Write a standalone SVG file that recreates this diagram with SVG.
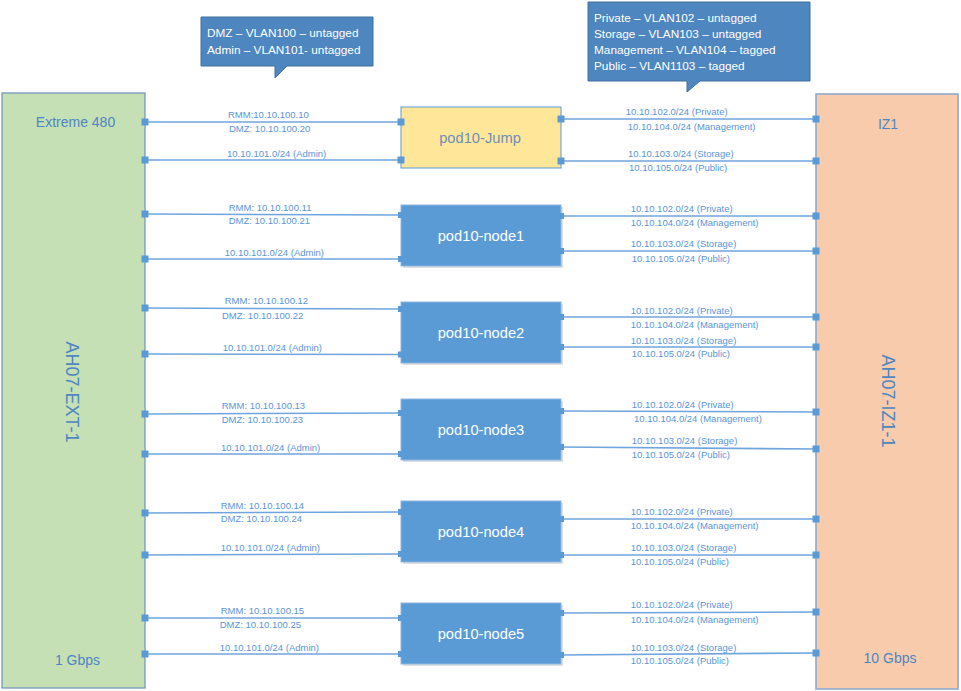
<svg xmlns="http://www.w3.org/2000/svg" width="961" height="691" viewBox="0 0 961 691">
<style>
.lbl{font-family:"Liberation Sans",Arial,sans-serif;font-size:9.5px;fill:#5b95d6}
.big{font-family:"Liberation Sans",Arial,sans-serif;font-size:14px;fill:#4f86c2;text-anchor:middle}
.vert{font-family:"Liberation Sans",Arial,sans-serif;font-size:18px;fill:#4f86c2;text-anchor:middle}
.call{font-family:"Liberation Sans",Arial,sans-serif;font-size:11.8px;fill:#ffffff}
.callbox{fill:#4e86c0;stroke:#41719c;stroke-width:1}
.node{fill:#5b9bd5;stroke:#8db4e2;stroke-width:1}
.nodetxt{font-family:"Liberation Sans",Arial,sans-serif;font-size:14.7px;fill:#ffffff;text-anchor:middle}
.shadow{fill:#000000;opacity:0.12}
.port{fill:#5b9bd5}
.conn line{stroke:#6fa5de;stroke-width:1.6}
</style>

<g id="callout-dmz">
<path class="callbox" d="M201,17 H373 V66 H287 L275,78 V66 H201 Z"/>
<text class="call" x="207" y="37">DMZ – VLAN100 – untagged</text>
<text class="call" x="207" y="54">Admin – VLAN101- untagged</text>
</g>

<g id="callout-vlans">
<path class="callbox" d="M588,2 H810 V81 H700 L687,92 V81 H588 Z"/>
<text class="call" x="594" y="21.5">Private – VLAN102 – untagged</text>
<text class="call" x="594" y="37.9">Storage – VLAN103 – untagged</text>
<text class="call" x="594" y="53.9">Management – VLAN104 – tagged</text>
<text class="call" x="594" y="69.9">Public – VLAN1103 – tagged</text>
</g>

<g id="ext-switch">
<rect x="2" y="93" width="143" height="595" fill="#c5e0b4" stroke="#6d8fc0" stroke-width="1.2"/>
<text class="big" x="75.5" y="127">Extreme 480</text>
<text class="vert" transform="translate(66,392) rotate(90)" x="0" y="0">AH07-EXT-1</text>
<text class="big" x="77.5" y="665">1 Gbps</text>
</g>

<g id="iz1-switch">
<rect x="816" y="94" width="142" height="595" fill="#f8cbad" stroke="#8ea9cc" stroke-width="1.6"/>
<text class="big" x="888" y="129">IZ1</text>
<text class="vert" transform="translate(882,401) rotate(90)" x="0" y="0">AH07-IZ1-1</text>
<text class="big" x="890" y="663">10 Gbps</text>
</g>

<g id="connectors" class="conn">
<line x1="145" y1="122" x2="401" y2="122"/>
<line x1="145" y1="160" x2="401" y2="160"/>
<line x1="145" y1="214" x2="401" y2="215"/>
<line x1="145" y1="259" x2="401" y2="259"/>
<line x1="145" y1="308" x2="401" y2="309"/>
<line x1="145" y1="354" x2="401" y2="354.5"/>
<line x1="145" y1="414" x2="401" y2="413"/>
<line x1="145" y1="454" x2="401" y2="454"/>
<line x1="145" y1="513" x2="401" y2="512"/>
<line x1="145" y1="555" x2="401" y2="554"/>
<line x1="145" y1="618" x2="401" y2="618"/>
<line x1="145" y1="654" x2="401" y2="654"/>
<line x1="561" y1="119" x2="816" y2="119"/>
<line x1="561" y1="161" x2="816" y2="161"/>
<line x1="561" y1="216" x2="816" y2="216"/>
<line x1="561" y1="251" x2="816" y2="251"/>
<line x1="561" y1="317" x2="816" y2="317"/>
<line x1="561" y1="347" x2="816" y2="347"/>
<line x1="561" y1="411" x2="816" y2="412"/>
<line x1="561" y1="447" x2="816" y2="449"/>
<line x1="561" y1="519" x2="816" y2="519"/>
<line x1="561" y1="555" x2="816" y2="555"/>
<line x1="561" y1="613" x2="816" y2="612"/>
<line x1="561" y1="655" x2="816" y2="653"/>
</g>

<g id="switch-ports">
<rect class="port" x="141.5" y="118.5" width="7" height="7"/>
<rect class="port" x="141.5" y="156.5" width="7" height="7"/>
<rect class="port" x="141.5" y="210.5" width="7" height="7"/>
<rect class="port" x="141.5" y="255.5" width="7" height="7"/>
<rect class="port" x="141.5" y="304.5" width="7" height="7"/>
<rect class="port" x="141.5" y="350.5" width="7" height="7"/>
<rect class="port" x="141.5" y="410.5" width="7" height="7"/>
<rect class="port" x="141.5" y="450.5" width="7" height="7"/>
<rect class="port" x="141.5" y="509.5" width="7" height="7"/>
<rect class="port" x="141.5" y="551.5" width="7" height="7"/>
<rect class="port" x="141.5" y="614.5" width="7" height="7"/>
<rect class="port" x="141.5" y="650.5" width="7" height="7"/>
<rect class="port" x="812.5" y="115.5" width="7" height="7"/>
<rect class="port" x="812.5" y="157.5" width="7" height="7"/>
<rect class="port" x="812.5" y="212.5" width="7" height="7"/>
<rect class="port" x="812.5" y="247.5" width="7" height="7"/>
<rect class="port" x="812.5" y="313.5" width="7" height="7"/>
<rect class="port" x="812.5" y="343.5" width="7" height="7"/>
<rect class="port" x="812.5" y="408.5" width="7" height="7"/>
<rect class="port" x="812.5" y="445.5" width="7" height="7"/>
<rect class="port" x="812.5" y="515.5" width="7" height="7"/>
<rect class="port" x="812.5" y="551.5" width="7" height="7"/>
<rect class="port" x="812.5" y="608.5" width="7" height="7"/>
<rect class="port" x="812.5" y="649.5" width="7" height="7"/>
</g>

<g id="pod10-jump">
<rect x="401" y="107" width="160" height="61" fill="#ffe699" stroke="#5b9bd5" stroke-width="1"/>
<rect class="port" x="397.5" y="118.5" width="7" height="7"/>
<rect class="port" x="397.5" y="156.5" width="7" height="7"/>
<rect class="port" x="557.5" y="115.5" width="7" height="7"/>
<rect class="port" x="557.5" y="157.5" width="7" height="7"/>
<text class="nodetxt" x="480" y="143" style="fill:#6f8fb8">pod10-Jump</text>
</g>

<g id="pod10-node1">
<rect class="shadow" x="403" y="207" width="160" height="61"/>
<rect class="node" x="401" y="205" width="160" height="61"/>
<rect class="port" x="398" y="212" width="6" height="6"/>
<rect class="port" x="398" y="256" width="6" height="6"/>
<rect class="port" x="558" y="213" width="6" height="6"/>
<rect class="port" x="558" y="248" width="6" height="6"/>
<text class="nodetxt" x="481" y="240.5">pod10-node1</text>
</g>

<g id="pod10-node2">
<rect class="shadow" x="403" y="304" width="160" height="61"/>
<rect class="node" x="401" y="302" width="160" height="61"/>
<rect class="port" x="398" y="306" width="6" height="6"/>
<rect class="port" x="398" y="351.5" width="6" height="6"/>
<rect class="port" x="558" y="314" width="6" height="6"/>
<rect class="port" x="558" y="344" width="6" height="6"/>
<text class="nodetxt" x="481" y="337.5">pod10-node2</text>
</g>

<g id="pod10-node3">
<rect class="shadow" x="403" y="401" width="160" height="61"/>
<rect class="node" x="401" y="399" width="160" height="61"/>
<rect class="port" x="398" y="410" width="6" height="6"/>
<rect class="port" x="398" y="451" width="6" height="6"/>
<rect class="port" x="558" y="408" width="6" height="6"/>
<rect class="port" x="558" y="444" width="6" height="6"/>
<text class="nodetxt" x="481" y="434.5">pod10-node3</text>
</g>

<g id="pod10-node4">
<rect class="shadow" x="403" y="503" width="160" height="61"/>
<rect class="node" x="401" y="501" width="160" height="61"/>
<rect class="port" x="398" y="509" width="6" height="6"/>
<rect class="port" x="398" y="551" width="6" height="6"/>
<rect class="port" x="558" y="516" width="6" height="6"/>
<rect class="port" x="558" y="552" width="6" height="6"/>
<text class="nodetxt" x="481" y="536.5">pod10-node4</text>
</g>

<g id="pod10-node5">
<rect class="shadow" x="403" y="605" width="160" height="61"/>
<rect class="node" x="401" y="603" width="160" height="61"/>
<rect class="port" x="398" y="615" width="6" height="6"/>
<rect class="port" x="398" y="651" width="6" height="6"/>
<rect class="port" x="558" y="610" width="6" height="6"/>
<rect class="port" x="558" y="652" width="6" height="6"/>
<text class="nodetxt" x="481" y="638.5">pod10-node5</text>
</g>

<g id="link-labels">
<text class="lbl" x="228" y="117.7">RMM:10.10.100.10</text>
<text class="lbl" x="229" y="131.7">DMZ: 10.10.100.20</text>
<text class="lbl" x="227" y="157">10.10.101.0/24 (Admin)</text>
<text class="lbl" x="228.7" y="210.7">RMM: 10.10.100.11</text>
<text class="lbl" x="228.7" y="224">DMZ: 10.10.100.21</text>
<text class="lbl" x="224.7" y="256">10.10.101.0/24 (Admin)</text>
<text class="lbl" x="224.7" y="304.4">RMM: 10.10.100.12</text>
<text class="lbl" x="222" y="319.4">DMZ: 10.10.100.22</text>
<text class="lbl" x="222.7" y="351">10.10.101.0/24 (Admin)</text>
<text class="lbl" x="221.7" y="409.4">RMM: 10.10.100.13</text>
<text class="lbl" x="221.7" y="422.7">DMZ: 10.10.100.23</text>
<text class="lbl" x="221" y="451.4">10.10.101.0/24 (Admin)</text>
<text class="lbl" x="220.7" y="509">RMM: 10.10.100.14</text>
<text class="lbl" x="220.7" y="521.7">DMZ: 10.10.100.24</text>
<text class="lbl" x="220.7" y="551">10.10.101.0/24 (Admin)</text>
<text class="lbl" x="220.7" y="614">RMM: 10.10.100.15</text>
<text class="lbl" x="219.7" y="627.7">DMZ: 10.10.100.25</text>
<text class="lbl" x="219.7" y="651">10.10.101.0/24 (Admin)</text>

<text class="lbl" x="625.7" y="115">10.10.102.0/24 (Private)</text>
<text class="lbl" x="627.7" y="130">10.10.104.0/24 (Management)</text>
<text class="lbl" x="628" y="157.4">10.10.103.0/24 (Storage)</text>
<text class="lbl" x="629" y="170.7">10.10.105.0/24 (Public)</text>
<text class="lbl" x="630.7" y="211.7">10.10.102.0/24 (Private)</text>
<text class="lbl" x="630.7" y="226">10.10.104.0/24 (Management)</text>
<text class="lbl" x="630.7" y="247.4">10.10.103.0/24 (Storage)</text>
<text class="lbl" x="631.7" y="262">10.10.105.0/24 (Public)</text>
<text class="lbl" x="630.7" y="314">10.10.102.0/24 (Private)</text>
<text class="lbl" x="630.7" y="328">10.10.104.0/24 (Management)</text>
<text class="lbl" x="630.7" y="344">10.10.103.0/24 (Storage)</text>
<text class="lbl" x="631.7" y="357.4">10.10.105.0/24 (Public)</text>
<text class="lbl" x="631.7" y="407.7">10.10.102.0/24 (Private)</text>
<text class="lbl" x="634" y="421.7">10.10.104.0/24 (Management)</text>
<text class="lbl" x="631.7" y="444">10.10.103.0/24 (Storage)</text>
<text class="lbl" x="631.7" y="457.7">10.10.105.0/24 (Public)</text>
<text class="lbl" x="630.7" y="514.7">10.10.102.0/24 (Private)</text>
<text class="lbl" x="630.7" y="529">10.10.104.0/24 (Management)</text>
<text class="lbl" x="630.7" y="550.7">10.10.103.0/24 (Storage)</text>
<text class="lbl" x="630.7" y="565">10.10.105.0/24 (Public)</text>
<text class="lbl" x="630.7" y="608.4">10.10.102.0/24 (Private)</text>
<text class="lbl" x="630.7" y="623">10.10.104.0/24 (Management)</text>
<text class="lbl" x="630.7" y="651">10.10.103.0/24 (Storage)</text>
<text class="lbl" x="630.7" y="664.4">10.10.105.0/24 (Public)</text>
</g>
</svg>
